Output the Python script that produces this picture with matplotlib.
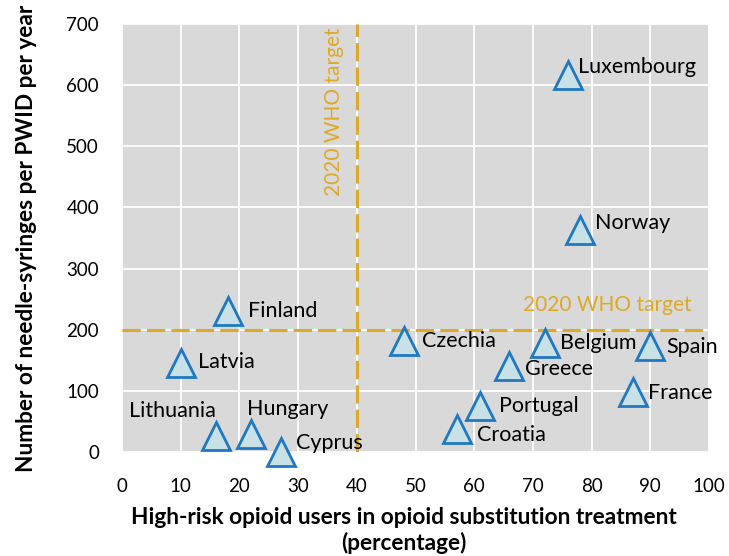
import matplotlib.pyplot as plt

plt.rcParams['font.family'] = ['Lato', 'DejaVu Sans']

# Data
countries = ['Luxembourg', 'Norway', 'Finland', 'Czechia', 'Belgium', 'Spain', 'Greece',
             'France', 'Portugal', 'Croatia', 'Latvia', 'Lithuania', 'Hungary', 'Cyprus']
ost_pct = [76, 78, 18, 48, 72, 90, 66, 87, 61, 57, 10, 16, 22, 27]
syringes = [617, 363, 231, 182, 178, 174, 141, 98, 75, 38, 145, 27, 29, 0]

who_target_x = 40
who_target_y = 200

# label offsets in pixels (dx, dy, ha)
offsets = {
    'Luxembourg': (10, 8, 'left'),
    'Norway': (15, 7, 'left'),
    'Finland': (20, 0, 'left'),
    'Czechia': (18, 0, 'left'),
    'Belgium': (15, 0, 'left'),
    'Spain': (16, -1, 'left'),
    'Greece': (16, -3, 'left'),
    'France': (15, -1, 'left'),
    'Portugal': (19, 0, 'left'),
    'Croatia': (20, -6, 'left'),
    'Latvia': (17, 1, 'left'),
    'Lithuania': (0, 25, 'right'),
    'Hungary': (-4, 25, 'left'),
    'Cyprus': (15, 9, 'left'),
}

gold = '#DDA928'

fig = plt.figure(figsize=(7.29, 5.56), dpi=100)
ax = fig.add_axes([0.1674, 0.187, 0.8052, 0.7698])
ax.set_facecolor('#D9D9D9')
for s in ax.spines.values():
    s.set_visible(False)
ax.grid(True, color='white', linewidth=1.3)
ax.set_axisbelow(True)

ax.axvline(who_target_x, color=gold, linestyle=(0, (6, 2)), linewidth=2.2)
ax.axhline(who_target_y, color=gold, linestyle=(0, (6, 2)), linewidth=2.2)

ax.plot(ost_pct, syringes, linestyle='none', marker='^', markersize=20,
        markerfacecolor='#C8E1E6', markeredgecolor='#1F78C0', markeredgewidth=2,
        clip_on=False, zorder=5)

for name, x, y in zip(countries, ost_pct, syringes):
    dx, dy, ha = offsets[name]
    ax.annotate(name, (x, y), xytext=(dx * 0.72, dy * 0.72), textcoords='offset points',
                ha=ha, va='center', fontsize=15.5, color='black', zorder=6)

ax.text(37.8, 694, '2020 WHO target', rotation=90, ha='right', va='top',
        color=gold, fontsize=15)
ax.text(97.1, 240, '2020 WHO target', ha='right', va='center', color=gold, fontsize=15)

ax.set_xlim(0, 100)
ax.set_ylim(0, 700)
ax.set_xticks(range(0, 101, 10))
ax.set_yticks(range(0, 701, 100))
ax.tick_params(length=0, labelsize=13.5)
ax.tick_params(axis='x', pad=18.5)
ax.tick_params(axis='y', pad=16.5)

ax.set_xlabel('High-risk opioid users in opioid substitution treatment\n(percentage)',
              fontsize=16.3, fontweight='bold', labelpad=9, linespacing=1.2)
ax.xaxis.label.set_x(0.48)
ax.set_ylabel('Number of needle-syringes per PWID per year', fontsize=16.3,
              fontweight='bold')
ax.yaxis.set_label_coords(-0.145, 0.5)

fig.savefig('out.png', dpi=100)
